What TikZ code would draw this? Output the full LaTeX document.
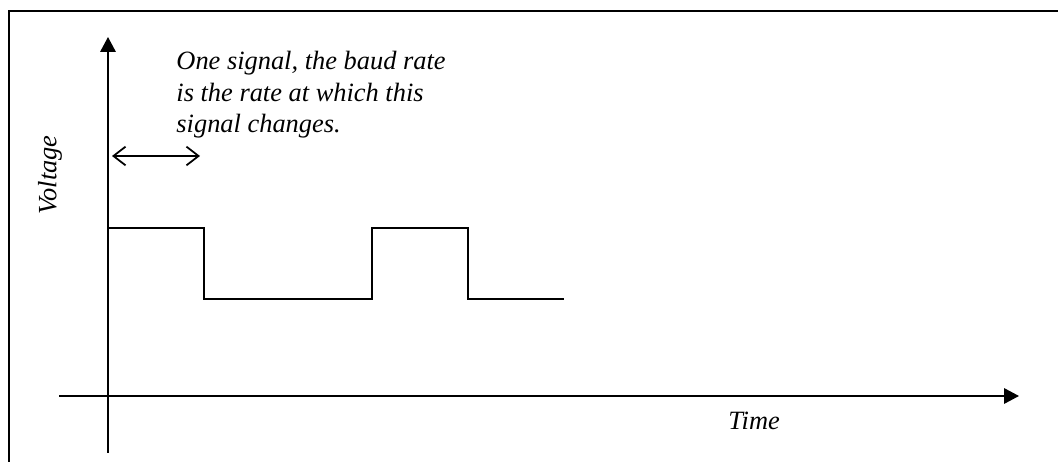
\documentclass[tikz,border=0pt]{standalone}
\usepackage{fontspec}
\setmainfont{Liberation Serif}
\usetikzlibrary{arrows.meta,positioning}

\begin{document}
\begin{tikzpicture}[x=0.4545pt, y=-0.4545pt,
  axis/.style={-{Triangle[length=6.8pt,width=7pt]}, line width=0.9pt},
  wave/.style={line width=0.9pt},
  span/.style={{Straight Barb[length=5.5pt,width=8.5pt]}-{Straight Barb[length=5.5pt,width=8.5pt]}, line width=0.8pt},
  lbl/.style={font=\fontsize{12}{14.3}\selectfont\itshape, inner sep=0pt, align=left}
]
\useasboundingbox (0,0) rectangle (1058,462);
\clip (0,0) rectangle (1058,462);
\draw[line width=1.1pt] (9,480) -- (9,11) -- (1080,11);

% axes
\coordinate (ybot) at (108,453);
\coordinate (ytop) at (108,37);
\coordinate (xleft) at (59,396);
\coordinate (xright) at (1019,396);
\draw[axis] (ybot) -- (ytop);
\draw[axis] (xleft) -- (xright);

% signal
\coordinate (s0) at (108,228);
\coordinate (s1) at (204,228);
\coordinate (s2) at (204,299);
\coordinate (s3) at (372,299);
\coordinate (s4) at (372,228);
\coordinate (s5) at (468,228);
\coordinate (s6) at (468,299);
\coordinate (s7) at (564,299);
\draw[wave] (s0) -- (s1) -- (s2) -- (s3) -- (s4) -- (s5) -- (s6) -- (s7);

% one signal period
\coordinate (pa) at (112,156);
\coordinate (pb) at (200,156);
\draw[span] (pa) -- (pb);

\node[lbl, anchor=north west] (note) at (176,51) {One signal, the baud rate\\is the rate at which this\\signal changes.};
\node[lbl, rotate=90] (voltage) at (50,175) {Voltage};
\node[lbl, anchor=base west] (time) at (728,430) {Time};
\end{tikzpicture}
\end{document}
